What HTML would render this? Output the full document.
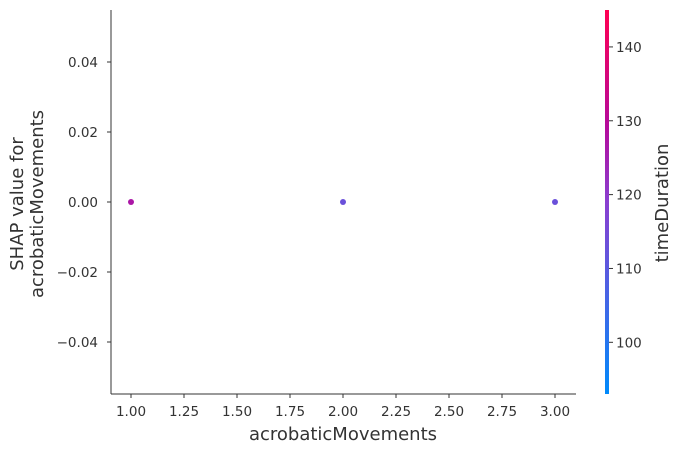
<!DOCTYPE html>
<html><head><meta charset="utf-8"><style>
body{margin:0;background:#fff}
svg text{font-family:"DejaVu Sans","Liberation Sans",sans-serif;fill:#333}
</style></head><body>
<svg id="c" width="681" height="453">
<defs><linearGradient id="g" x1="0" y1="1" x2="0" y2="0">
<stop offset="0" stop-color="#008afb"/><stop offset="0.5" stop-color="#8a3fd0"/><stop offset="0.7" stop-color="#b50a9a"/><stop offset="1" stop-color="#ff0052"/></linearGradient></defs>
</svg>
<script>
const xVals=[1,2,3];
const yVals=[0,0,0];
const cVals=[127,113,113];
const xTicks=[1.00,1.25,1.50,1.75,2.00,2.25,2.50,2.75,3.00];
const yTicks=[-0.04,-0.02,0.00,0.02,0.04];
const cTicks=[100,110,120,130,140];
const svg=document.getElementById('c');
const NS='http://www.w3.org/2000/svg';
function mk(t,a,txt){const e=document.createElementNS(NS,t);for(const k in a)e.setAttribute(k,a[k]);if(txt!==undefined)e.textContent=txt;svg.appendChild(e);return e;}
const X=v=>131+(v-1)*212;
const Y=v=>202-v*3500;
const C=v=>394-(v-93)*(384/52);
function col(v){const t=Math.max(0,Math.min(1,(v-93)/52));
const s=[[0,[0,138,251]],[0.5,[138,63,208]],[0.7,[181,10,154]],[1,[255,0,82]]];
for(let i=1;i<s.length;i++){if(t<=s[i][0]){const f=(t-s[i-1][0])/(s[i][0]-s[i-1][0]);const a=s[i-1][1],b=s[i][1];return 'rgb('+a.map((x,j)=>Math.round(x+(b[j]-x)*f)).join(',')+')';}}return 'rgb(255,0,82)';}
let e;
e=mk('line',{x1:111,y1:10,x2:111,y2:394,stroke:'#333','stroke-width':1});

e=mk('line',{x1:111,y1:394,x2:576,y2:394,stroke:'#333','stroke-width':1});

xTicks.forEach(v=>{e=mk('line',{x1:X(v),y1:394,x2:X(v),y2:398,stroke:'#333'});

e=mk('text',{x:X(v),y:416,'text-anchor':'middle','font-size':13.5},v.toFixed(2));
});
yTicks.forEach(v=>{e=mk('line',{x1:107,y1:Y(v),x2:111,y2:Y(v),stroke:'#333'});

e=mk('text',{x:98,y:Y(v)+5,'text-anchor':'end','font-size':13.5},(v<0?'\u2212':'')+Math.abs(v).toFixed(2));
});
xVals.forEach((v,i)=>{e=mk('circle',{cx:X(v),cy:Y(yVals[i]),r:3,fill:col(cVals[i])});
});
e=mk('text',{x:343,y:440,'text-anchor':'middle','font-size':18},'acrobaticMovements');

e=mk('text',{x:0,y:0,'text-anchor':'middle','font-size':18,transform:'translate(23,204) rotate(-90)'});

const t1=document.createElementNS(NS,'tspan');t1.setAttribute('x',0);t1.setAttribute('dy',0);t1.textContent='SHAP value for';e.appendChild(t1);
const t2=document.createElementNS(NS,'tspan');t2.setAttribute('x',0);t2.setAttribute('dy',20);t2.textContent='acrobaticMovements';e.appendChild(t2);
e=mk('rect',{x:605,y:10,width:4,height:384,fill:'url(#g)'});

cTicks.forEach(v=>{e=mk('line',{x1:609,y1:C(v),x2:613,y2:C(v),stroke:'#333'});

e=mk('text',{x:616,y:C(v)+5,'font-size':13.5,fill:'#111'},String(v));
});
e=mk('text',{x:0,y:0,'text-anchor':'middle','font-size':18,transform:'translate(668,203) rotate(-90)'},'timeDuration');

</script>
</body></html>
